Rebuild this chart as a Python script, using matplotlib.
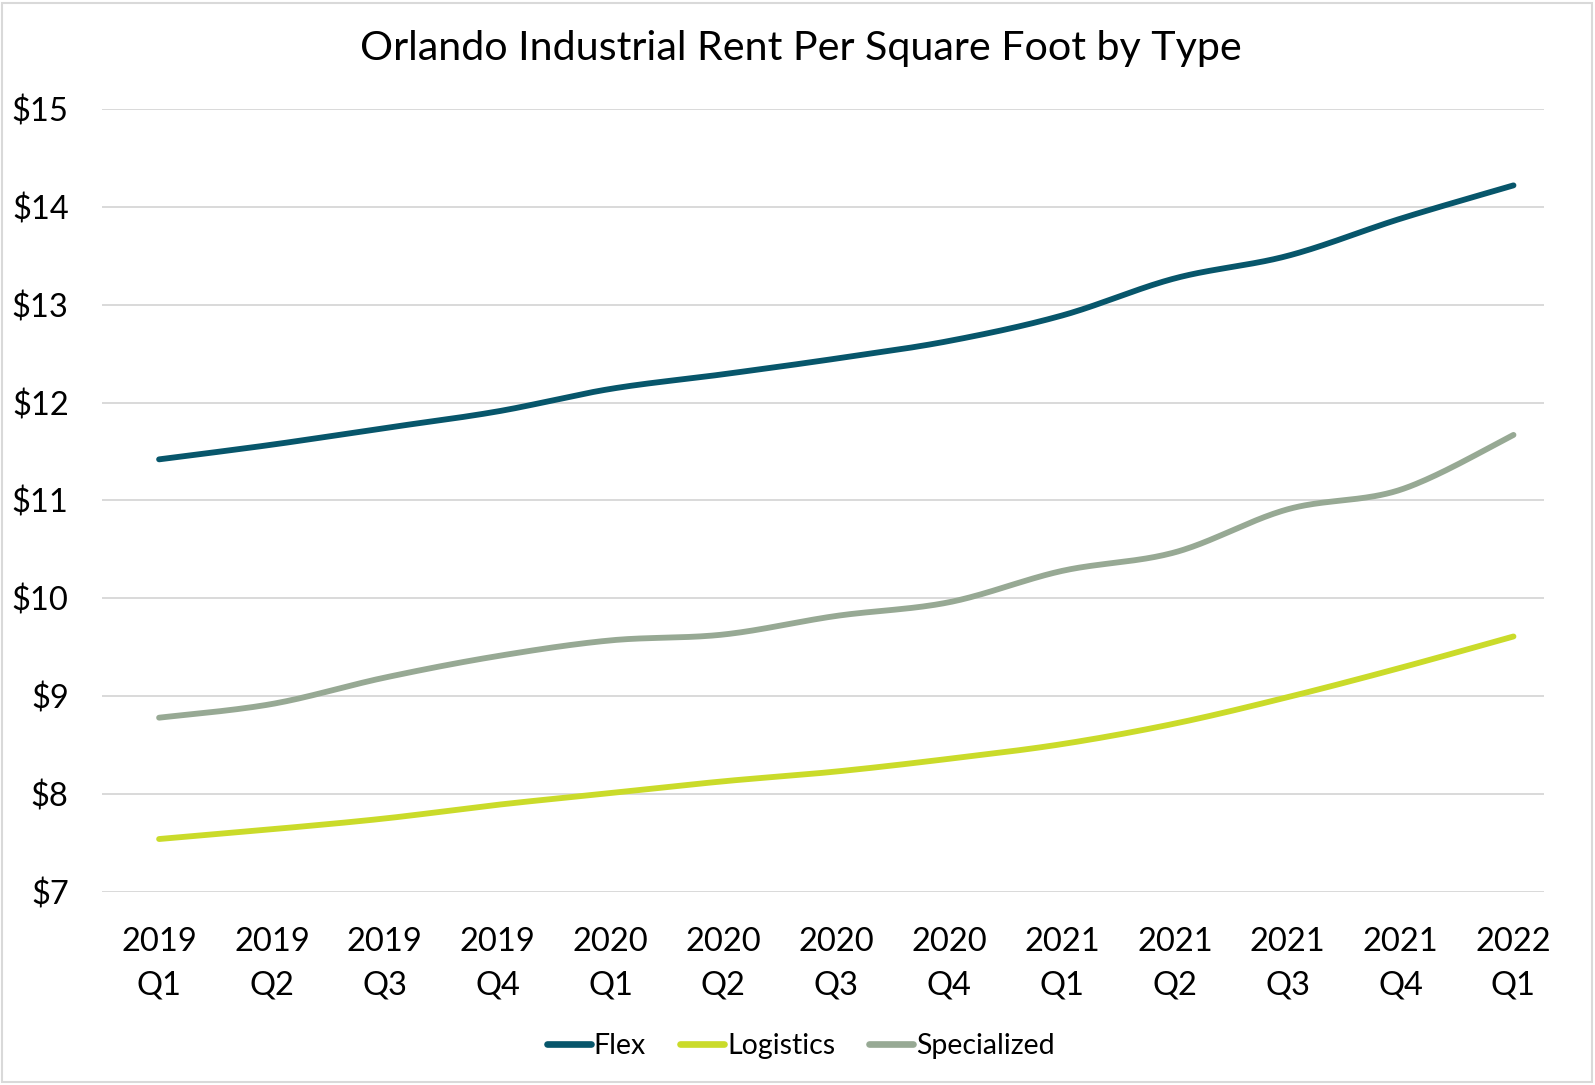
import numpy as np
import matplotlib
matplotlib.use('Agg')
import matplotlib.pyplot as plt
from matplotlib.patches import Rectangle

plt.rcParams['font.family'] = ['Lato', 'DejaVu Sans']

quarters = ['2019\nQ1', '2019\nQ2', '2019\nQ3', '2019\nQ4',
            '2020\nQ1', '2020\nQ2', '2020\nQ3', '2020\nQ4',
            '2021\nQ1', '2021\nQ2', '2021\nQ3', '2021\nQ4',
            '2022\nQ1']

flex = [11.42, 11.57, 11.74, 11.91, 12.14, 12.29, 12.45, 12.63,
        12.89, 13.27, 13.50, 13.88, 14.22]
logistics = [7.54, 7.64, 7.75, 7.89, 8.01, 8.13, 8.23, 8.36,
             8.51, 8.72, 8.99, 9.29, 9.61]
specialized = [8.78, 8.92, 9.19, 9.41, 9.57, 9.63, 9.82, 9.96,
               10.28, 10.47, 10.91, 11.11, 11.67]

series_names = ['Flex', 'Logistics', 'Specialized']
series_colors = ['#07566B', '#CADB2A', '#97A994']


def smooth(y, n=40):
    # Excel-style smoothed line: cubic bezier segments with catmull-rom tangents
    y = np.asarray(y, dtype=float)
    x = np.arange(len(y), dtype=float)
    xs, ys = [], []
    t = np.linspace(0, 1, n)
    for i in range(len(y) - 1):
        i0 = max(i - 1, 0)
        i3 = min(i + 2, len(y) - 1)
        p0 = np.array([x[i], y[i]])
        p3 = np.array([x[i + 1], y[i + 1]])
        c1 = p0 + (np.array([x[i + 1], y[i + 1]]) - np.array([x[i0], y[i0]])) / 6.0
        c2 = p3 - (np.array([x[i3], y[i3]]) - np.array([x[i], y[i]])) / 6.0
        pts = ((1 - t) ** 3)[:, None] * p0 + (3 * (1 - t) ** 2 * t)[:, None] * c1 \
            + (3 * (1 - t) * t ** 2)[:, None] * c2 + (t ** 3)[:, None] * p3
        xs.extend(pts[:, 0])
        ys.extend(pts[:, 1])
    return np.array(xs), np.array(ys)


fig = plt.figure(figsize=(15.95, 10.85), dpi=100)
ax = fig.add_axes([0.064, 0.178, 0.904, 0.7215])

for vals, name, col in zip([flex, logistics, specialized], series_names, series_colors):
    sx, sy = smooth(vals)
    ax.plot(sx, sy, color=col, lw=4.2, label=name, solid_capstyle='round', zorder=3)

ax.set_xlim(-0.505, 12.27)
ax.set_ylim(7, 15)
ax.set_yticks(range(7, 16))
ax.set_yticklabels(['$%d' % v for v in range(7, 16)])
ax.set_xticks(range(len(quarters)))
ax.set_xticklabels(quarters, linespacing=1.6)

ax.grid(axis='y', color='#D9D9D9', lw=1.4)
ax.set_axisbelow(True)
for s in ax.spines.values():
    s.set_visible(False)
ax.tick_params(length=0, labelsize=23.5, colors='black')
ax.tick_params(axis='y', pad=24)
ax.tick_params(axis='x', pad=25)

fig.text(0.502, 0.955, 'Orlando Industrial Rent Per Square Foot by Type',
         ha='center', va='center', fontsize=29.7)

leg = fig.legend(loc='center', bbox_to_anchor=(0.502, 0.036), ncol=3, frameon=False,
                 fontsize=20.5, handlelength=1.55, handletextpad=0.1, columnspacing=1.2)
for h in leg.get_lines():
    h.set_linewidth(4.8)

# light border round the chart area
fig.patches.append(Rectangle((0.001, 0.003), 0.997, 0.994, transform=fig.transFigure,
                             fill=False, edgecolor='#D9D9D9', lw=1.5))

fig.savefig('out.png', dpi=100)
